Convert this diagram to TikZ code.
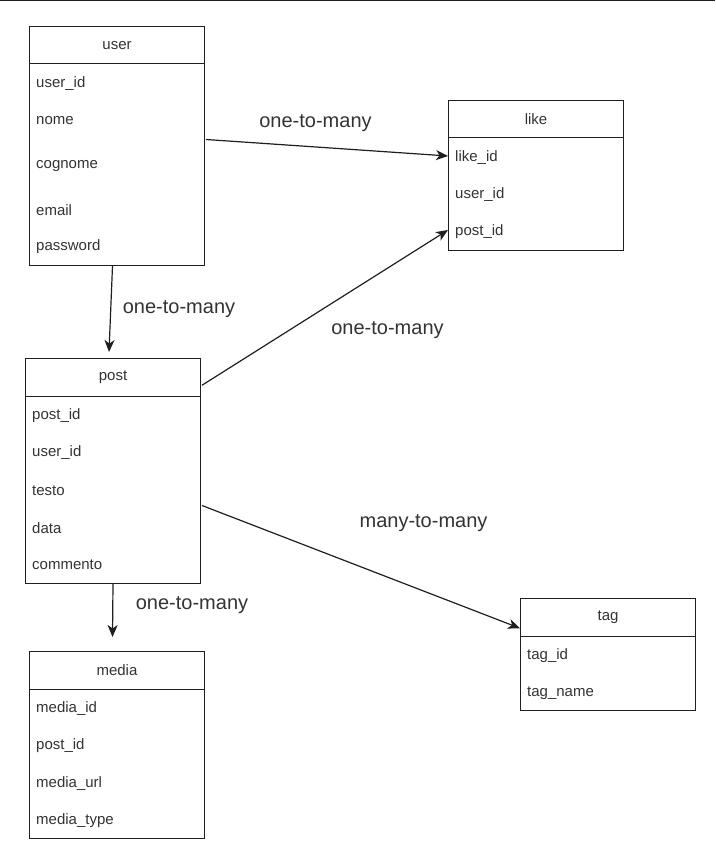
\documentclass[tikz,border=0pt]{standalone}
\usepackage{fontspec}
\setmainfont{Liberation Sans}
\usepackage{xcolor}
\usepackage{tikz}
\usetikzlibrary{arrows.meta}

\definecolor{linegray}{HTML}{1F1F1F}
\definecolor{textgray}{HTML}{333333}

\begin{document}
\begin{tikzpicture}[x=1pt, y=-1pt,
  tbl/.style={draw=linegray, line width=1pt, anchor=north west, minimum width=175pt, inner sep=0pt},
  hdr/.style={tbl, minimum height=37.5pt, text=textgray, font=\fontsize{15pt}{17pt}\selectfont},
  fld/.style={anchor=west, inner sep=7pt, yshift=-2pt, text=textgray, font=\fontsize{15pt}{17pt}\selectfont},
  rel/.style={yshift=-2pt, text=textgray, font=\fontsize{20pt}{23pt}\selectfont},
  link/.style={draw=linegray, line width=1.2pt, -{Stealth[length=12pt,width=10pt,inset=3.5pt]}}]

\useasboundingbox (0,0) rectangle (715,850);
\fill[linegray] (0,0) rectangle (715,1.5);

\node (user) at (29,26) [tbl, minimum height=239pt] {};
\node (userh) at (29,26) [hdr] {user};
\node (useruid) at (29,82) [fld] {user\_id};
\node (usernome) at (29,119) [fld] {nome};
\node (usercog) at (29,164) [fld] {cognome};
\node (usermail) at (29,208) [fld] {email};
\node (userpw) at (29,245) [fld] {password};

\node (like) at (448,100) [tbl, minimum height=150pt] {};
\node (likeh) at (448,100) [hdr] {like};
\node (likeid) at (448,156) [fld] {like\_id};
\node (likeuid) at (448,193) [fld] {user\_id};
\node (likepid) at (448,230) [fld] {post\_id};

\node (post) at (25,358) [tbl, minimum height=225pt] {};
\node (posth) at (25,358) [hdr] {post};
\node (postid) at (25,414) [fld] {post\_id};
\node (postuid) at (25,451) [fld] {user\_id};
\node (posttesto) at (25,489) [fld] {testo};
\node (postdata) at (25,526) [fld] {data};
\node (postcomm) at (25,563) [fld] {commento};

\node (tag) at (520,598) [tbl, minimum height=112pt] {};
\node (tagh) at (520,598) [hdr] {tag};
\node (tagid) at (520,654) [fld] {tag\_id};
\node (tagname) at (520,691) [fld] {tag\_name};

\node (media) at (29,651) [tbl, minimum height=187pt] {};
\node (mediah) at (29,651) [hdr] {media};
\node (mediaid) at (29,707) [fld] {media\_id};
\node (mediapid) at (29,744) [fld] {post\_id};
\node (mediaurl) at (29,782) [fld] {media\_url};
\node (mediatype) at (29,819) [fld] {media\_type};

\coordinate (mediatop) at (112.5,637);

\draw[link] ([xshift=1pt,yshift=6.5pt]user.east) -- ([yshift=2pt]likeid.west);
\draw[link] ([xshift=-4.5pt]user.south) -- ([xshift=-4pt,yshift=6pt]post.north);
\draw[link] ([xshift=1pt,yshift=-8pt]posth.east) -- ([yshift=2pt]likepid.west);
\draw[link] ([xshift=1pt,yshift=-34.5pt]post.east) -- ([yshift=-11pt]tagh.west);
\draw[link] (post.south) -- (mediatop);

\node (rel1) at (315.5,121) [rel] {one-to-many};
\node (rel2) at (179,307) [rel] {one-to-many};
\node (rel3) at (387.5,328) [rel] {one-to-many};
\node (rel4) at (423.5,521) [rel] {many-to-many};
\node (rel5) at (192,603) [rel] {one-to-many};

\end{tikzpicture}
\end{document}
